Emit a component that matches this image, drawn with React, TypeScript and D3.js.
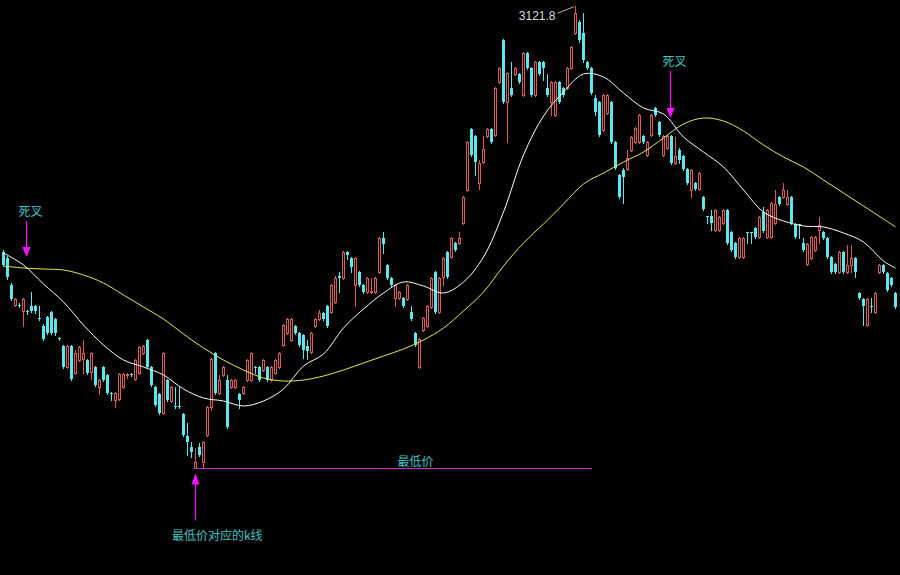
import React from 'react';
import * as d3 from 'd3';

const WIDTH = 900;
const HEIGHT = 575;

// daily bars: [open, high, low, close]
const kline: [number, number, number, number][] = [
  [2876, 2878, 2862, 2863], [2870, 2872, 2849, 2851], [2843, 2845, 2828, 2829], [2823, 2830, 2822, 2829],
  [2823, 2825, 2821, 2822], [2817, 2830, 2802, 2829], [2817, 2818, 2814, 2816], [2822, 2836, 2816, 2817],
  [2822, 2823, 2815, 2817], [2810, 2822, 2808, 2809], [2802, 2804, 2788, 2789], [2811, 2812, 2794, 2795],
  [2816, 2817, 2794, 2795], [2809, 2810, 2793, 2795], [2790, 2791, 2788, 2789], [2782, 2783, 2760, 2761],
  [2761, 2783, 2760, 2782], [2782, 2783, 2748, 2749], [2755, 2778, 2754, 2775], [2768, 2782, 2767, 2781],
  [2769, 2788, 2755, 2775], [2768, 2769, 2754, 2755], [2756, 2776, 2749, 2775], [2761, 2762, 2742, 2743],
  [2741, 2749, 2734, 2748], [2761, 2762, 2747, 2748], [2753, 2754, 2734, 2735], [2735, 2736, 2728, 2734],
  [2728, 2736, 2721, 2735], [2729, 2755, 2728, 2754], [2741, 2755, 2740, 2754], [2753, 2755, 2750, 2754],
  [2754, 2755, 2752, 2753], [2749, 2769, 2748, 2768], [2755, 2782, 2754, 2781], [2775, 2783, 2774, 2782],
  [2788, 2789, 2760, 2761], [2761, 2762, 2742, 2743], [2741, 2742, 2722, 2723], [2734, 2735, 2714, 2715],
  [2715, 2776, 2714, 2775], [2748, 2749, 2727, 2728], [2727, 2742, 2726, 2741], [2722, 2741, 2720, 2721],
  [2722, 2741, 2720, 2721], [2714, 2715, 2692, 2693], [2692, 2705, 2673, 2686], [2681, 2686, 2671, 2676],
  [2660, 2680, 2660, 2666], [2681, 2685, 2672, 2673], [2666, 2687, 2661, 2686], [2693, 2722, 2692, 2721],
  [2721, 2770, 2718, 2769], [2775, 2776, 2734, 2735], [2735, 2753, 2734, 2748], [2753, 2762, 2752, 2761],
  [2748, 2753, 2700, 2701], [2741, 2749, 2740, 2748], [2741, 2749, 2740, 2748], [2734, 2735, 2720, 2728],
  [2735, 2742, 2734, 2741], [2748, 2769, 2747, 2768], [2748, 2776, 2747, 2775], [2761, 2762, 2755, 2760],
  [2761, 2762, 2747, 2748], [2758, 2769, 2757, 2768], [2761, 2762, 2747, 2748], [2748, 2762, 2747, 2761],
  [2755, 2769, 2754, 2768], [2761, 2776, 2760, 2775], [2783, 2804, 2782, 2803], [2795, 2810, 2794, 2809],
  [2788, 2810, 2787, 2809], [2802, 2803, 2794, 2795], [2795, 2796, 2782, 2783], [2793, 2794, 2770, 2778],
  [2782, 2788, 2769, 2777], [2776, 2796, 2775, 2795], [2802, 2810, 2801, 2809], [2809, 2818, 2808, 2815],
  [2815, 2816, 2808, 2809], [2822, 2823, 2801, 2802], [2816, 2844, 2815, 2843], [2826, 2852, 2825, 2850],
  [2852, 2856, 2836, 2850], [2850, 2877, 2849, 2876], [2876, 2877, 2869, 2873], [2870, 2871, 2856, 2861],
  [2843, 2871, 2822, 2870], [2856, 2857, 2842, 2843], [2843, 2844, 2835, 2836], [2836, 2851, 2835, 2850],
  [2836, 2850, 2835, 2837], [2836, 2851, 2835, 2850], [2856, 2891, 2855, 2890], [2890, 2896, 2875, 2884],
  [2863, 2864, 2849, 2850], [2850, 2851, 2842, 2843], [2830, 2844, 2822, 2843], [2830, 2837, 2829, 2836],
  [2830, 2831, 2821, 2822], [2829, 2844, 2828, 2843], [2816, 2822, 2808, 2809], [2795, 2796, 2782, 2783],
  [2761, 2790, 2760, 2789], [2798, 2811, 2797, 2810], [2802, 2823, 2801, 2822], [2821, 2851, 2820, 2850],
  [2856, 2857, 2815, 2816], [2816, 2851, 2815, 2850], [2851, 2871, 2843, 2870], [2876, 2877, 2850, 2851],
  [2871, 2891, 2870, 2890], [2885, 2886, 2877, 2878], [2885, 2896, 2884, 2890], [2905, 2932, 2904, 2931],
  [2938, 2987, 2937, 2986], [2999, 3000, 2972, 2973], [2992, 2993, 2953, 2966], [2945, 2968, 2939, 2965],
  [2966, 2992, 2965, 2979], [2992, 3000, 2991, 2999], [2999, 3000, 2985, 2986], [2993, 3041, 2992, 3040],
  [3046, 3061, 3045, 3060], [3088, 3089, 3025, 3026], [3026, 3056, 2986, 3055], [3040, 3066, 3032, 3033],
  [3054, 3061, 3053, 3060], [3054, 3055, 3045, 3046], [3033, 3076, 3032, 3075], [3075, 3076, 3059, 3060],
  [3060, 3061, 3032, 3033], [3033, 3067, 3032, 3066], [3066, 3067, 3053, 3054], [3066, 3067, 3048, 3060],
  [3040, 3054, 3032, 3033], [3026, 3047, 3013, 3046], [3013, 3047, 3012, 3046], [3046, 3047, 3025, 3026],
  [3040, 3041, 3032, 3033], [3040, 3061, 3039, 3060], [3060, 3082, 3059, 3081], [3095, 3121.8, 3094, 3115],
  [3106, 3108, 3086, 3088], [3095, 3115, 3066, 3068], [3066, 3067, 3059, 3060], [3060, 3061, 3034, 3035],
  [3030, 3033, 3013, 3016], [3026, 3027, 2992, 2993], [2998, 3034, 2997, 3033], [3015, 3034, 3014, 3033],
  [3026, 3027, 2985, 2986], [2986, 2987, 2959, 2960], [2953, 2954, 2930, 2931], [2958, 2960, 2925, 2951],
  [2959, 2978, 2958, 2970], [2978, 2992, 2977, 2991], [2986, 3001, 2985, 3000], [2986, 3014, 2985, 3013],
  [2992, 2993, 2985, 2986], [2973, 2987, 2972, 2986], [2993, 3014, 2992, 3013], [3020, 3021, 3012, 3013],
  [3006, 3007, 2992, 2993], [2973, 2993, 2972, 2992], [2980, 2993, 2979, 2992], [2992, 2993, 2964, 2965],
  [2965, 2991, 2964, 2972], [2978, 2980, 2965, 2968], [2972, 2973, 2958, 2959], [2959, 2960, 2944, 2945],
  [2938, 2959, 2931, 2958], [2945, 2946, 2938, 2939], [2939, 2956, 2938, 2955], [2931, 2932, 2918, 2919],
  [2912, 2912, 2905, 2911], [2912, 2918, 2898, 2905], [2898, 2919, 2897, 2918], [2898, 2912, 2897, 2911],
  [2905, 2919, 2904, 2918], [2918, 2919, 2884, 2885], [2896, 2897, 2877, 2878], [2885, 2886, 2870, 2871],
  [2871, 2891, 2870, 2890], [2871, 2891, 2870, 2890], [2896, 2896, 2885, 2895], [2896, 2896, 2885, 2895],
  [2900, 2901, 2890, 2891], [2891, 2912, 2890, 2911], [2916, 2921, 2896, 2897], [2891, 2919, 2890, 2918],
  [2891, 2926, 2890, 2925], [2905, 2938, 2904, 2924], [2931, 2932, 2923, 2924], [2931, 2945, 2930, 2938],
  [2924, 2938, 2923, 2931], [2931, 2932, 2904, 2905], [2904, 2905, 2890, 2891], [2904, 2904, 2890, 2903],
  [2885, 2890, 2877, 2878], [2864, 2885, 2863, 2884], [2870, 2892, 2869, 2891], [2878, 2892, 2877, 2891],
  [2898, 2911, 2885, 2903], [2896, 2897, 2889, 2890], [2890, 2891, 2870, 2871], [2871, 2872, 2855, 2856],
  [2864, 2865, 2855, 2856], [2856, 2877, 2855, 2876], [2876, 2877, 2855, 2856], [2856, 2883, 2855, 2863],
  [2863, 2883, 2856, 2870], [2870, 2871, 2851, 2856], [2835, 2836, 2829, 2830], [2829, 2830, 2803, 2822],
  [2803, 2830, 2802, 2829], [2822, 2830, 2816, 2821], [2816, 2836, 2815, 2835], [2856, 2864, 2855, 2863],
  [2863, 2864, 2855, 2856], [2855, 2856, 2837, 2838], [2850, 2851, 2842, 2843], [2835, 2836, 2820, 2821],
];

// moving averages: [bar index, value]
const maFast: [number, number][] = [
  [0, 2875], [5, 2863], [10, 2844], [15, 2826], [20, 2803], [25, 2783], [30, 2768], [35, 2761],
  [40, 2753], [45, 2739], [50, 2730], [55, 2727], [60, 2722], [65, 2727], [70, 2739], [75, 2762],
  [80, 2774], [85, 2800], [90, 2819], [95, 2835], [100, 2846], [105, 2842], [110, 2835], [115, 2846],
  [120, 2871], [125, 2916], [130, 2973], [135, 3012], [140, 3036], [145, 3054], [150, 3051], [155, 3035],
  [160, 3020], [165, 3014], [170, 2991], [175, 2976], [180, 2961], [185, 2938], [190, 2916], [195, 2907],
  [200, 2902], [205, 2901], [210, 2895], [215, 2886], [220, 2867], [223, 2860],
];
const maSlow: [number, number][] = [
  [0, 2862], [5, 2860], [10, 2859], [15, 2858], [20, 2853], [25, 2845], [30, 2833], [35, 2821],
  [40, 2809], [45, 2794], [50, 2780], [55, 2768], [60, 2758], [65, 2750], [70, 2747], [75, 2748],
  [80, 2752], [85, 2758], [90, 2765], [95, 2772], [100, 2779], [105, 2788], [110, 2800], [115, 2817],
  [120, 2836], [125, 2862], [130, 2885], [135, 2904], [140, 2924], [145, 2944], [150, 2955], [155, 2966],
  [160, 2976], [165, 2990], [170, 3004], [175, 3010], [180, 3007], [185, 2997], [190, 2983], [195, 2971],
  [200, 2961], [205, 2948], [210, 2935], [215, 2922], [220, 2909], [223, 2901],
];

// dead cross markers: bar, label baseline price, arrow tip price
const crossMarks = [
  { bar: 6, label: 2912, tip: 2871 },
  { bar: 167, label: 3062, tip: 3010 },
];
const lowLineEnd = 147;
const lowLabelBar = 103;

const UP = '#dc5a56';
const DOWN = '#58e8ee';
const LABEL = '#40c6c6';
const MARK = '#ff10ff';
const CJK = "'Noto Sans CJK SC', sans-serif";

export default function App() {
  const x = d3.scaleBand<number>()
    .domain(d3.range(kline.length))
    .range([1.5, 897.5])
    .paddingInner(0.25)
    .paddingOuter(0.125);
  const y = d3.scaleLinear().domain([2553, 3128]).range([HEIGHT, 0]);
  const bw = x.bandwidth();
  const cx = (i: number) => (x(i) ?? 0) + bw / 2;
  const py = (v: number) => Math.round(y(v));

  const line = d3.line<[number, number]>()
    .x(d => cx(d[0]))
    .y(d => y(d[1]))
    .curve(d3.curveCatmullRom.alpha(0.5));

  const lowIdx = d3.minIndex(kline, d => d[2]);
  const highIdx = d3.maxIndex(kline, d => d[1]);
  const yLow = py(kline[lowIdx][2]) + 0.5;
  const yHigh = y(kline[highIdx][1]);
  const hx = cx(highIdx);
  const lx = cx(lowIdx);

  return (
    <div style={{ position: 'fixed', left: 0, top: 0, width: WIDTH, height: HEIGHT, background: '#000' }}>
      <svg width={WIDTH} height={HEIGHT} style={{ display: 'block', background: '#000' }}>
        <g shapeRendering="crispEdges">
          {kline.map(([o, h, l, c], i) => {
            const x0 = x(i) ?? 0;
            const xm = cx(i);
            const top = py(Math.max(o, c));
            const bot = py(Math.min(o, c));
            if (c >= o) {
              return (
                <g key={i} stroke={UP} fill="none">
                  {py(h) < top && <line x1={xm} x2={xm} y1={py(h)} y2={top} />}
                  {py(l) > bot && <line x1={xm} x2={xm} y1={bot + 1} y2={py(l) + 1} />}
                  {bot > top
                    ? <rect x={x0 + 0.5} y={top + 0.5} width={bw - 1} height={bot - top} fill="#000" />
                    : <line x1={x0} x2={x0 + bw} y1={top + 0.5} y2={top + 0.5} />}
                </g>
              );
            }
            return (
              <g key={i}>
                <line x1={xm} x2={xm} y1={py(h)} y2={py(l) + 1} stroke={DOWN} />
                <rect x={x0} y={top} width={bw} height={Math.max(1, bot - top)} fill={DOWN} />
              </g>
            );
          })}
        </g>

        <path d={line(maSlow) ?? ''} fill="none" stroke="#eaea4c" strokeWidth={1} />
        <path d={line(maFast) ?? ''} fill="none" stroke="#ffffff" strokeWidth={1} />

        {crossMarks.map((m, k) => {
          const ax = cx(m.bar) - 1;
          const tip = y(m.tip);
          return (
            <g key={k}>
              <text x={ax + 4} y={y(m.label)} textAnchor="middle" fill={LABEL} fontFamily={CJK} fontSize={12}>死叉</text>
              <line x1={ax} x2={ax} y1={y(m.label) + 5} y2={tip - 9} stroke={MARK} strokeWidth={1.2} />
              <path d={`M${ax - 4},${tip - 10}L${ax + 4},${tip - 10}L${ax},${tip}Z`} fill={MARK} />
            </g>
          );
        })}

        <text x={hx - 20} y={yHigh + 14} textAnchor="end" fill="#dcdcdc"
          fontFamily="'Liberation Sans', Arial, sans-serif" fontSize={12}>
          {d3.format('.1f')(kline[highIdx][1])}
        </text>
        <line x1={hx - 18} y1={yHigh + 7} x2={hx - 1.5} y2={yHigh + 0.5} stroke="#e0e0e0" strokeWidth={0.8} />

        <line x1={lx} x2={cx(lowLineEnd)} y1={yLow} y2={yLow} stroke="#d028d0" strokeWidth={1} shapeRendering="crispEdges" />
        <text x={cx(lowLabelBar)} y={yLow - 3} textAnchor="middle" fill={LABEL} fontFamily={CJK} fontSize={12}>最低价</text>
        <path d={`M${lx},${yLow + 5}L${lx + 4},${yLow + 16}L${lx - 4},${yLow + 16}Z`} fill={MARK} />
        <line x1={lx} x2={lx} y1={yLow + 14} y2={yLow + 52} stroke={MARK} strokeWidth={1.2} />
        <text x={lx - 23.5} y={yLow + 71} fill={LABEL} fontFamily={CJK} fontSize={12}>最低价对应的k线</text>
      </svg>
    </div>
  );
}
